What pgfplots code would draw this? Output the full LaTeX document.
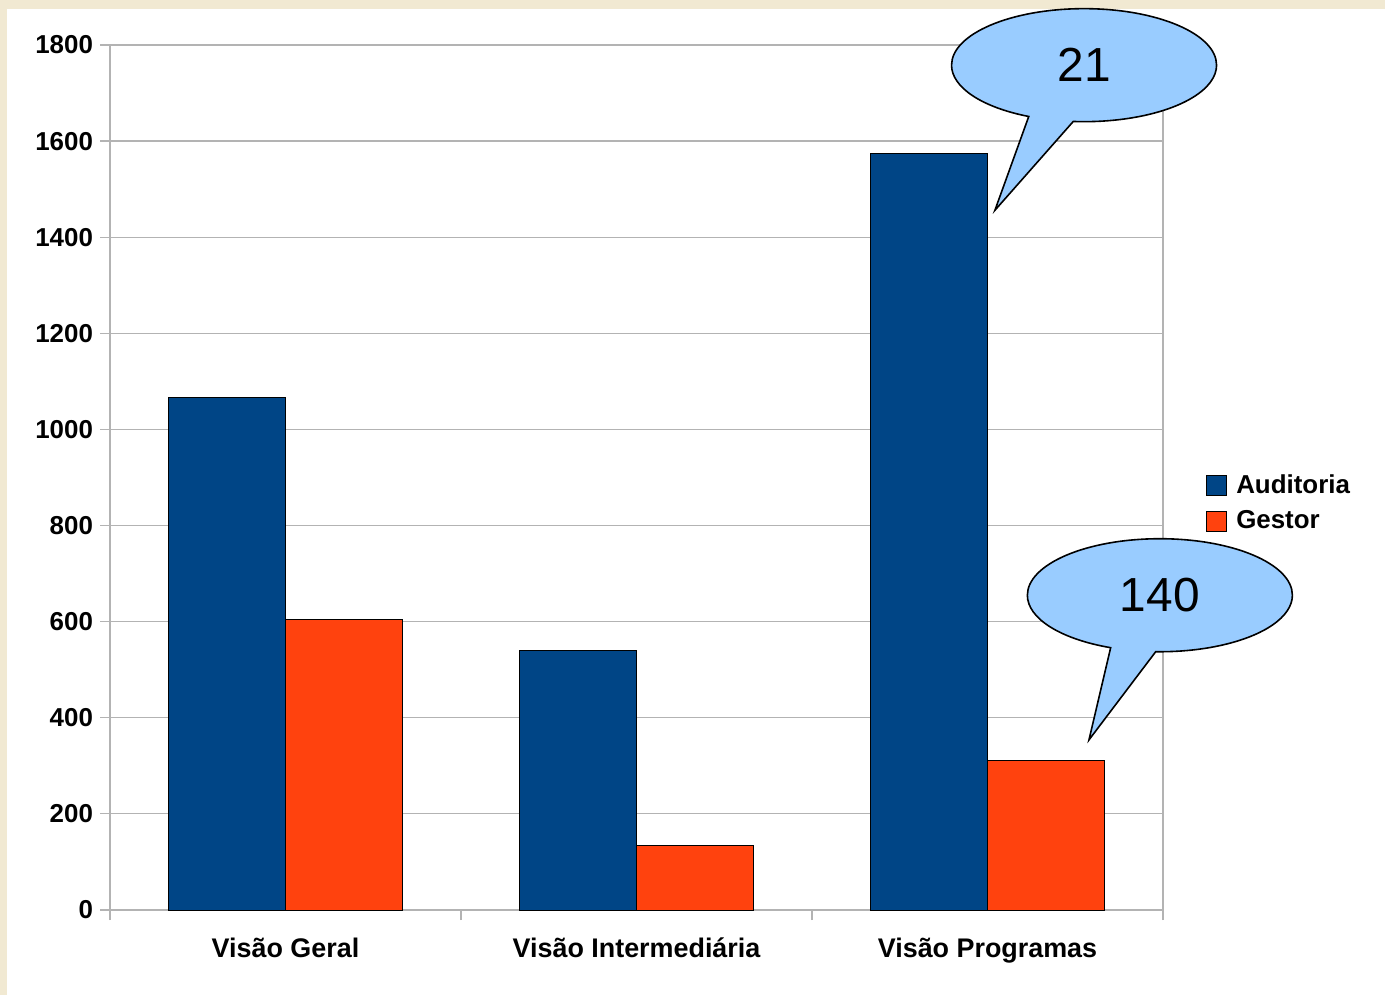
\documentclass[border=0pt]{standalone}
\usepackage{fontspec}
\setmainfont{Liberation Sans}
\usepackage{pgfplots}
\pgfplotsset{compat=1.18}
\usetikzlibrary{shapes.callouts}
\definecolor{aud}{HTML}{004586}
\definecolor{ges}{HTML}{FF420E}
\definecolor{cream}{HTML}{F1E9D2}
\definecolor{callfill}{HTML}{99CCFF}
\definecolor{gridc}{HTML}{B3B3B3}
\begin{document}
\begin{tikzpicture}[x=0.5bp,y=0.5bp]
\useasboundingbox (0,0) rectangle (1385,995);
\fill[cream] (0,0) rectangle (1385,995);
\fill[white] (7,0) rectangle (1385,986);
\begin{axis}[
  at={(55bp,42.5bp)}, anchor=south west,
  scale only axis, width=526.5bp, height=432.5bp,
  xmin=-0.5, xmax=2.5, ymin=0, ymax=1800,
  ytick={0,200,...,1800},
  xtick={-0.5,0.5,1.5,2.5}, xticklabels={},
  extra x ticks={0,1,2},
  extra x tick labels={Visão Geral,Visão Intermediária,Visão Programas},
  extra x tick style={major tick length=0pt, grid=none,
    xticklabel style={font=\bfseries\fontsize{13.5}{16}\selectfont, text height=10bp, text depth=0pt, anchor=north, yshift=-10bp}},
  ymajorgrids, xmajorgrids=false,
  grid style={gridc, line width=0.6pt},
  axis line style={gridc, line width=0.6pt},
  tick style={gridc, line width=0.6pt},
  tick align=outside, major tick length=5bp,
  xtick pos=bottom, ytick pos=left,
  /pgf/number format/assume math mode=true,
  /pgf/number format/1000 sep={},
  ticklabel style={font=\bfseries\fontsize{13}{15}\selectfont, black},
  clip=false,
  ybar=0pt, bar width=0.33333,
  legend style={at={(1.035,0.47)}, anchor=west, draw=none, fill=none,
    font=\bfseries\fontsize{13}{15}\selectfont, row sep=3bp},
  legend cell align=left,
  legend image code/.code={\draw[#1, draw=black, line width=0.5bp] (-4bp,-5bp) rectangle (6bp,5bp);
    \path (8.5bp,0bp);},
]
\addplot[fill=aud, draw=black, line width=0.5bp, bar shift=-0.166667] coordinates {(0,1067) (1,541) (2,1575)};
\addplot[fill=ges, draw=black, line width=0.5bp, bar shift=0.166667] coordinates {(0,605) (1,135) (2,312)};
\legend{Auditoria,Gestor}
\node[ellipse callout, draw=black, fill=callfill, line width=0.8pt,
  minimum width=132.5bp, minimum height=56.5bp, inner sep=0pt,
  callout absolute pointer={(axis cs:2.021,1456)}, callout pointer arc=20,
  font=\fontsize{24}{28}\selectfont] at (axis cs:2.275,1758) {21};
\node[ellipse callout, draw=black, fill=callfill, line width=0.8pt,
  minimum width=132.5bp, minimum height=56.5bp, inner sep=0pt,
  callout absolute pointer={(axis cs:2.289,354)}, callout pointer arc=20,
  font=\fontsize{24}{28}\selectfont] at (axis cs:2.491,655) {140};
\end{axis}
\end{tikzpicture}
\end{document}
